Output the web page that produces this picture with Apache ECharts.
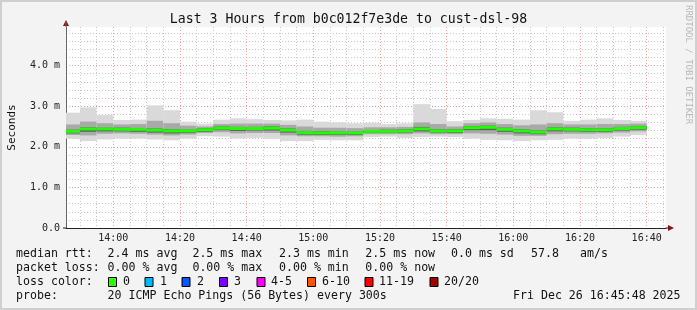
<!DOCTYPE html>
<html><head><meta charset="utf-8">
<script src="https://cdn.jsdelivr.net/npm/echarts@6/dist/echarts.min.js"></script>
<style>html,body{margin:0;padding:0;background:#f3f3f3}#c{width:697px;height:310px}</style>
</head><body><div id="c"></div>
<script>
// ---------- DATA ----------
const binEnd = ['13:50','13:55','14:00','14:05','14:10','14:15','14:20','14:25','14:30','14:35',
  '14:40','14:45','14:50','14:55','15:00','15:05','15:10','15:15','15:20','15:25',
  '15:30','15:35','15:40','15:45','15:50','15:55','16:00','16:05','16:10','16:15',
  '16:20','16:25','16:30','16:35','16:40'];
// round-trip times in ms
const medianRtt = [2.38,2.44,2.44,2.43,2.43,2.41,2.39,2.39,2.42,2.46,2.45,2.45,2.46,2.41,2.35,2.34,2.34,2.34,2.38,2.38,2.39,2.44,2.39,2.39,2.47,2.48,2.43,2.39,2.36,2.44,2.43,2.42,2.42,2.45,2.47];
const maxRtt = [2.84,2.97,2.78,2.66,2.67,3.02,2.90,2.62,2.57,2.67,2.70,2.68,2.66,2.65,2.67,2.62,2.60,2.58,2.59,2.56,2.58,3.05,2.93,2.63,2.66,2.70,2.69,2.67,2.90,2.85,2.64,2.67,2.70,2.66,2.64];
const minRtt = [2.20,2.14,2.18,2.20,2.20,2.18,2.16,2.20,2.26,2.25,2.20,2.22,2.20,2.14,2.14,2.17,2.16,2.16,2.24,2.25,2.22,2.24,2.25,2.24,2.20,2.17,2.16,2.14,2.16,2.17,2.20,2.20,2.22,2.25,2.29];
const upperRtt = [2.55,2.62,2.58,2.55,2.56,2.64,2.58,2.52,2.50,2.56,2.57,2.57,2.57,2.54,2.50,2.47,2.47,2.46,2.48,2.48,2.49,2.60,2.56,2.50,2.58,2.60,2.56,2.53,2.55,2.58,2.55,2.55,2.56,2.56,2.57];
const lowerRtt = [2.29,2.28,2.32,2.33,2.32,2.30,2.28,2.30,2.34,2.36,2.33,2.34,2.34,2.28,2.26,2.26,2.25,2.26,2.31,2.31,2.31,2.33,2.31,2.31,2.33,2.32,2.30,2.27,2.27,2.31,2.32,2.32,2.33,2.35,2.38];
const innerHiRtt = [2.42,2.48,2.47,2.47,2.46,2.45,2.43,2.42,2.46,2.50,2.49,2.49,2.50,2.45,2.39,2.38,2.37,2.37,2.41,2.42,2.43,2.49,2.43,2.43,2.51,2.52,2.47,2.43,2.40,2.48,2.47,2.46,2.46,2.49,2.51];
const innerLoRtt = [2.33,2.37,2.38,2.38,2.37,2.35,2.33,2.34,2.37,2.41,2.39,2.40,2.40,2.35,2.30,2.29,2.29,2.29,2.34,2.34,2.35,2.38,2.35,2.34,2.41,2.41,2.37,2.33,2.31,2.38,2.38,2.37,2.37,2.40,2.42];

const titleText = 'Last 3 Hours from b0c012f7e3de to cust-dsl-98';
const axisStart = '13:45:48';
const axisEnd = '16:45:48';
const stepMinutes = 5;
const yMaxMs = 4.95;

const rttLabel = 'median rtt:';
const rttStats = ['2.4 ms avg','2.5 ms max','2.3 ms min','2.5 ms now','0.0 ms sd','57.8','am/s'];
const lossLabel = 'packet loss:';
const lossStats = ['0.00 % avg','0.00 % max','0.00 % min','0.00 % now'];
const lossColorLabel = 'loss color:';
const lossNames = ['0','1','2','3','4-5','6-10','11-19','20/20'];
const probeLabel = 'probe:';
const probeText = '20 ICMP Echo Pings (56 Bytes) every 300s';
const stampText = 'Fri Dec 26 16:45:48 2025';
const sideText = 'RRDTOOL / TOBI OETIKER';

// ---------- STYLE / LAYOUT ----------
const lossColors = ['#26ff00','#00b8ff','#0059ff','#7e00ff','#ff00ff','#ff5500','#ff0000','#a10000'];
const MONO = 'DejaVu Sans Mono';
const LEG_FS = 11.6;
const rttX = [107.6,192.4,279,365.3,451,531,580];
const lossX = [107.6,192.4,279,365.3];
const boxX = [108.5,145,182,219.5,257,307.5,365,430];
const nameX = [123,160,197,234,271,322,379,444];
const lineY = [254,268,282,296];

function toMin(s){const p=s.split(':').map(Number);return p[0]*60+p[1]+(p[2]||0)/60;}
function fmtMin(v){const h=Math.floor(v/60),m=Math.round(v-h*60);return String(h).padStart(2,'0')+':'+String(m).padStart(2,'0');}

const smokeData = binEnd.map((t,i)=>{
  const e = toMin(t);
  return [e-stepMinutes, e, minRtt[i], lowerRtt[i], innerLoRtt[i], medianRtt[i], innerHiRtt[i], upperRtt[i], maxRtt[i]];
});

function renderItem(params, api){
  const x0 = api.value(0), x1 = api.value(1);
  const bands = [[2,8,'#d9d9d9'],[3,7,'#a9a9a9'],[4,6,'#5e5e5e']];
  const children = bands.map(b=>{
    const a = api.coord([x0, api.value(b[1])]);
    const c = api.coord([x1, api.value(b[0])]);
    return {type:'rect', shape:{x:a[0], y:a[1], width:c[0]-a[0], height:c[1]-a[1]}, style:{fill:b[2]}};
  });
  const m0 = api.coord([x0, api.value(5)]);
  const m1 = api.coord([x1, api.value(5)]);
  children.push({type:'rect', shape:{x:m0[0], y:m0[1]-1.5, width:m1[0]-m0[0], height:3}, style:{fill:'#20ff00'}});
  return {type:'group', children};
}

const G = {left:66, top:27, width:600, height:201};
const graphics = [];
graphics.push({type:'rect', shape:{x:1,y:1,width:695,height:308}, style:{fill:null, stroke:'#cfcfcf', lineWidth:2}, silent:true});
function txt(s,x,y,extra){return Object.assign({type:'text', x:x, y:y, style:{text:s, fontFamily:MONO, fontSize:LEG_FS, fill:'#111', verticalAlign:'middle', align:'left'}}, extra||{});}
graphics.push(txt(rttLabel,16,lineY[0]));
rttStats.forEach((s,i)=>graphics.push(txt(s,rttX[i],lineY[0])));
graphics.push(txt(lossLabel,16,lineY[1]));
lossStats.forEach((s,i)=>graphics.push(txt(s,lossX[i],lineY[1])));
graphics.push(txt(lossColorLabel,16,lineY[2]));
lossNames.forEach((s,i)=>{
  graphics.push({type:'rect', shape:{x:boxX[i], y:lineY[2]-4.5, width:8, height:9}, style:{fill:lossColors[i], stroke:'#000', lineWidth:1}});
  graphics.push(txt(s,nameX[i],lineY[2]));
});
graphics.push(txt(probeLabel,16,lineY[3]));
graphics.push(txt(probeText,107.6,lineY[3]));
graphics.push(txt(stampText,513,lineY[3]));
graphics.push({type:'text', x:688, y:5, rotation:-Math.PI/2, style:{text:sideText, fontFamily:MONO, fontSize:9, fill:'#b8b8b8', align:'left', verticalAlign:'middle'}});
// axis arrows
graphics.push({type:'polygon', shape:{points:[[66,20],[63,26],[69,26]]}, style:{fill:'#8b1010'}});
graphics.push({type:'polygon', shape:{points:[[674,228],[668,225],[668,231]]}, style:{fill:'#8b1010'}});
graphics.push({type:'line', shape:{x1:66,y1:27,x2:66,y2:22}, style:{stroke:'#666', lineWidth:1}});
graphics.push({type:'line', shape:{x1:666,y1:228,x2:669,y2:228}, style:{stroke:'#222', lineWidth:1}});
graphics.push({type:'line', shape:{x1:63,y1:228,x2:66,y2:228}, style:{stroke:'#222', lineWidth:1}});

const chart = echarts.init(document.getElementById('c'), null, {renderer:'canvas', width:697, height:310});
chart.setOption({
  backgroundColor:'#f3f3f3',
  animation:false,
  title:{text:titleText, left:'center', top:8, textStyle:{fontFamily:MONO, fontSize:13.2, fontWeight:'normal', color:'#111'}},
  grid:Object.assign({show:true, backgroundColor:'#ffffff', borderWidth:0, containLabel:false, outerBoundsMode:'none'}, G),
  xAxis:{type:'value', min:toMin(axisStart), max:toMin(axisEnd), splitNumber:9,
    axisLine:{show:true, onZero:false, lineStyle:{color:'#222', width:1}},
    axisTick:{show:false},
    axisLabel:{formatter:fmtMin, fontFamily:MONO, fontSize:10, color:'#222', margin:5, showMinLabel:false, showMaxLabel:false},
    splitLine:{show:true, showMinLine:false, showMaxLine:false, lineStyle:{color:'#f2a0a0', type:[1,2], width:1}},
    minorTick:{show:false, splitNumber:4},
    minorSplitLine:{show:true, lineStyle:{color:'#c8c8c8', type:[1,2], width:1}}
  },
  yAxis:{type:'value', min:0, max:yMaxMs, interval:1,
    name:'Seconds', nameLocation:'middle', nameGap:48, nameRotate:90,
    nameTextStyle:{fontFamily:MONO, fontSize:11, color:'#111'},
    axisLine:{show:true, lineStyle:{color:'#666', width:1}},
    axisTick:{show:false},
    axisLabel:{formatter:v=> v===0 ? '0.0' : v.toFixed(1)+' m', fontFamily:MONO, fontSize:10, color:'#222', margin:6, showMaxLabel:false},
    splitLine:{show:true, showMinLine:false, showMaxLine:false, lineStyle:{color:'#f2a0a0', type:[1,2], width:1}},
    minorTick:{show:false, splitNumber:5},
    minorSplitLine:{show:true, lineStyle:{color:'#c8c8c8', type:[1,2], width:1}}
  },
  series:[{type:'custom', renderItem:renderItem, clip:true, data:smokeData,
    encode:{x:[0,1], y:[2,3,4,5,6,7,8]}, z:3}],
  graphic:graphics
});
</script></body></html>
